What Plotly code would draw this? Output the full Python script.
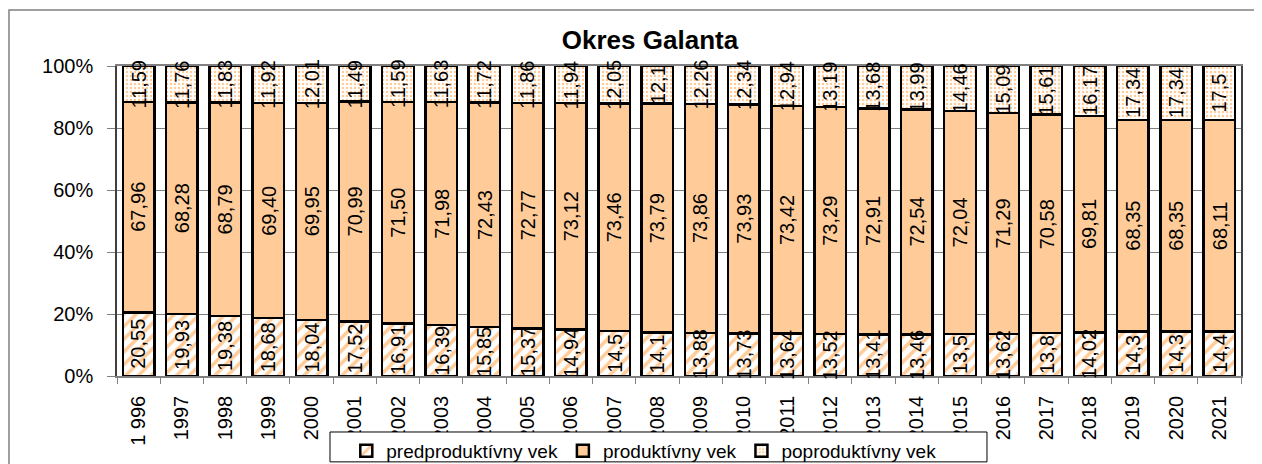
import plotly.graph_objects as go

# ---- data ----
years = ["1 996", "1997", "1998", "1999", "2000", "2001", "2002", "2003", "2004",
         "2005", "2006", "2007", "2008", "2009", "2010", "2011", "2012", "2013",
         "2014", "2015", "2016", "2017", "2018", "2019", "2020", "2021"]

predproduktivny = [20.55, 19.93, 19.38, 18.68, 18.04, 17.52, 16.91, 16.39, 15.85,
                   15.37, 14.94, 14.5, 14.1, 13.88, 13.73, 13.64, 13.52, 13.41,
                   13.46, 13.5, 13.62, 13.8, 14.02, 14.3, 14.3, 14.4]
produktivny = [67.96, 68.28, 68.79, 69.40, 69.95, 70.99, 71.50, 71.98, 72.43,
               72.77, 73.12, 73.46, 73.79, 73.86, 73.93, 73.42, 73.29, 72.91,
               72.54, 72.04, 71.29, 70.58, 69.81, 68.35, 68.35, 68.11]
poproduktivny = [11.59, 11.76, 11.83, 11.92, 12.01, 11.49, 11.59, 11.63, 11.72,
                 11.86, 11.94, 12.05, 12.1, 12.26, 12.34, 12.94, 13.19, 13.68,
                 13.99, 14.46, 15.09, 15.61, 16.17, 17.34, 17.34, 17.5]

PEACH = "#FFCC99"
FONT = "Liberation Sans, Arial, sans-serif"


def lab(v, fixed=False):
    s = f"{v:.2f}" if fixed else f"{v:g}"
    return s.replace(".", ",")


series = [
    ("predproduktívny vek", predproduktivny, False,
     dict(color="white", pattern=dict(shape="/", fgcolor=PEACH, fgopacity=1,
                                      fillmode="overlay", size=9, solidity=0.4))),
    ("produktívny vek", produktivny, True, dict(color=PEACH)),
    ("poproduktívny vek", poproduktivny, False,
     dict(color="white", pattern=dict(shape=".", fgcolor=PEACH, fgopacity=1,
                                      fillmode="overlay", size=4, solidity=0.3))),
]

fig = go.Figure()
for name, vals, _, mk in series:
    fig.add_trace(go.Bar(x=years, y=vals, name=name,
                         marker=dict(line=dict(color="black", width=2.5), **mk)))

# data labels (rotated, centred in each stacked segment of the 100% bar)
totals = [a + b + c for a, b, c in zip(predproduktivny, produktivny, poproduktivny)]
annotations = []
base = [0.0] * len(years)
for name, vals, fixed, _ in series:
    for i, v in enumerate(vals):
        pct = 100.0 * v / totals[i]
        annotations.append(dict(x=i, y=base[i] + pct / 2, text=lab(v, fixed),
                                textangle=-90, showarrow=False, xref="x", yref="y",
                                font=dict(size=20, family=FONT, color="black")))
        base[i] += pct

fig.update_layout(
    barmode="stack", barnorm="percent", bargap=0.27,
    width=1262, height=464,
    margin=dict(l=109, r=29, t=58, b=96, autoexpand=False),
    paper_bgcolor="white", plot_bgcolor="white",
    font=dict(family=FONT, size=20, color="black"),
    title=dict(text="<b>Okres Galanta</b>", font=dict(size=26, family=FONT),
               x=0.5087, xanchor="center", xref="container",
               y=0.931, yanchor="middle", yref="container"),
    xaxis=dict(type="category", tickangle=-90, ticks="outside", tickson="boundaries",
               ticklen=6, tickcolor="#808080", showline=True, linecolor="#808080",
               linewidth=1.5, mirror=True, showgrid=False, automargin=False,
               ticklabelstandoff=10, tickfont=dict(size=20, family=FONT)),
    yaxis=dict(range=[0, 100], tickvals=[0, 20, 40, 60, 80, 100],
               ticktext=["0%", "20%", "40%", "60%", "80%", "100%"],
               ticks="outside", ticklen=8, tickcolor="#808080",
               showline=True, linecolor="#404040", linewidth=1.5, mirror=True,
               showgrid=True, gridcolor="#808080", gridwidth=1, automargin=False,
               ticklabelstandoff=10, tickfont=dict(size=20, family=FONT)),
    legend=dict(orientation="h", x=0.204, xanchor="left", y=-0.18, yanchor="top",
                borderwidth=0, bgcolor="rgba(0,0,0,0)",
                font=dict(size=19, family=FONT), traceorder="normal"),
    annotations=annotations,
    shapes=[
        # outer chart frame
        dict(type="rect", xref="paper", yref="paper",
             x0=-0.0961, x1=1.2, y0=-0.5, y1=1.1806,
             line=dict(color="#808080", width=1.5), layer="below"),
        # legend box
        dict(type="rect", xref="paper", yref="paper",
             x0=0.1895, x1=0.774, y0=-0.277, y1=-0.1806,
             line=dict(color="black", width=1), fillcolor="white", layer="above"),
    ],
)

fig.write_html("out.html")
